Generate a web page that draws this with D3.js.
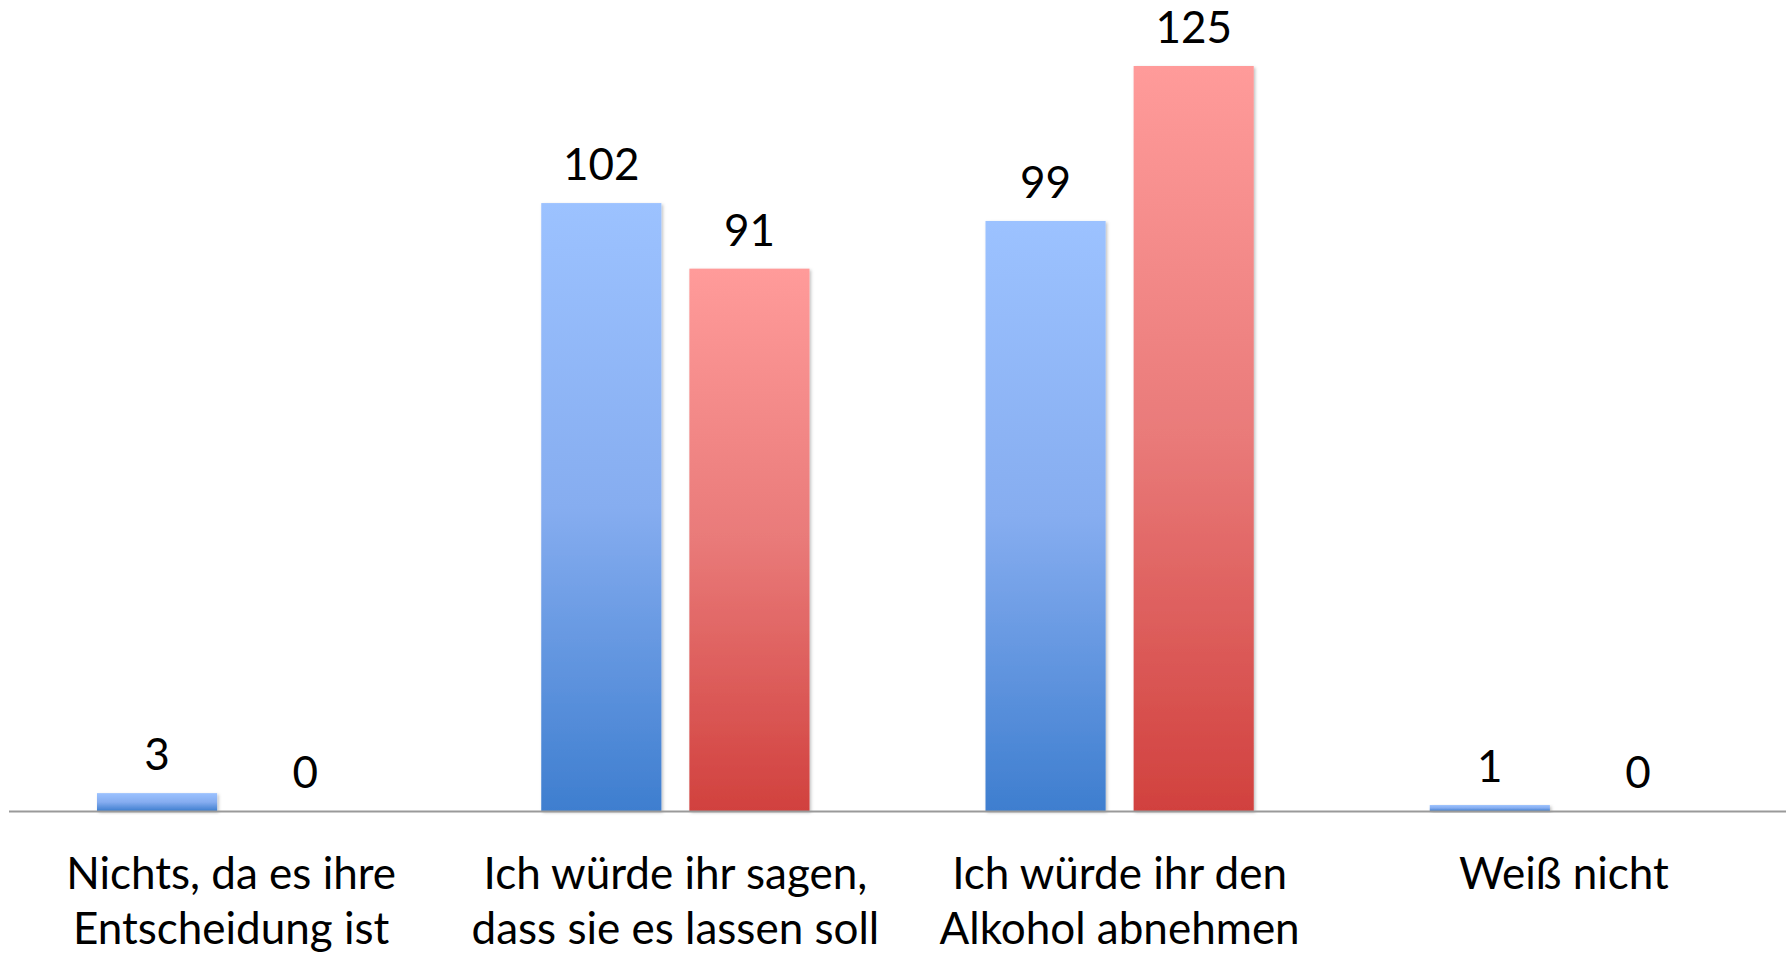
<!DOCTYPE html>
<html>
<head>
<meta charset="utf-8">
<script src="https://cdn.jsdelivr.net/npm/d3@7"></script>
<style>
  body { margin: 0; background: #fff; }
  text { font-family: Lato, "Liberation Sans", Arial, sans-serif; fill: #000; }
</style>
</head>
<body>
<div id="chart"></div>
<script>
// data
const categories = [
  ["Nichts, da es ihre", "Entscheidung ist"],
  ["Ich würde ihr sagen,", "dass sie es lassen soll"],
  ["Ich würde ihr den", "Alkohol abnehmen"],
  ["Weiß nicht"]
];
const seriesNames = ["blue", "red"];
const blueValues = [3, 102, 99, 1];
const redValues = [0, 91, 125, 0];

const width = 1791;
const height = 956;
const axisY = 811;

const svg = d3.select("#chart").append("svg")
  .attr("width", width)
  .attr("height", height);

const defs = svg.append("defs");

const gradBlue = defs.append("linearGradient").attr("id", "gBlue")
  .attr("x1", 0).attr("y1", 0).attr("x2", 0).attr("y2", 1);
gradBlue.append("stop").attr("offset", "0%").attr("stop-color", "#9cc2ff");
gradBlue.append("stop").attr("offset", "50%").attr("stop-color", "#86adf0");
gradBlue.append("stop").attr("offset", "100%").attr("stop-color", "#3e7ecf");

const gradRed = defs.append("linearGradient").attr("id", "gRed")
  .attr("x1", 0).attr("y1", 0).attr("x2", 0).attr("y2", 1);
gradRed.append("stop").attr("offset", "0%").attr("stop-color", "#ff9b9a");
gradRed.append("stop").attr("offset", "50%").attr("stop-color", "#e97a79");
gradRed.append("stop").attr("offset", "100%").attr("stop-color", "#d1413e");

const shadow = defs.append("filter").attr("id", "shadow")
  .attr("x", "-10%").attr("y", "-10%").attr("width", "130%").attr("height", "130%");
shadow.append("feDropShadow")
  .attr("dx", 1.5).attr("dy", 1.5).attr("stdDeviation", 1.5)
  .attr("flood-color", "#000").attr("flood-opacity", 0.25);

// scales
const x0 = d3.scaleBand()
  .domain(d3.range(categories.length))
  .range([9, 1786]);

const x1 = d3.scaleBand()
  .domain(seriesNames)
  .range([88, x0.bandwidth() - 88])
  .paddingInner(0.189);

const y = d3.scaleLinear()
  .domain([0, 125])
  .range([axisY, 66]);

const rows = categories.map((c, i) => ({
  i,
  values: [
    { key: "blue", v: blueValues[i], fill: "url(#gBlue)" },
    { key: "red", v: redValues[i], fill: "url(#gRed)" }
  ]
}));

const groups = svg.selectAll("g.group")
  .data(rows)
  .enter().append("g")
  .attr("class", "group")
  .attr("transform", d => `translate(${x0(d.i)},0)`);

groups.selectAll("rect")
  .data(d => d.values.filter(v => v.v > 0))
  .enter().append("rect")
  .attr("x", d => x1(d.key))
  .attr("y", d => y(d.v))
  .attr("width", x1.bandwidth())
  .attr("height", d => axisY - y(d.v))
  .attr("fill", d => d.fill)
  .attr("filter", "url(#shadow)");

// value labels
groups.selectAll("text.val")
  .data(d => d.values)
  .enter().append("text")
  .attr("class", "val")
  .attr("x", d => x1(d.key) + x1.bandwidth() / 2)
  .attr("y", d => y(d.v) - 23)
  .attr("text-anchor", "middle")
  .style("font-size", "44px")
  .text(d => d.v);

// axis line
svg.append("line")
  .attr("x1", x0.range()[0])
  .attr("x2", x0.range()[1])
  .attr("y1", axisY + 0.5)
  .attr("y2", axisY + 0.5)
  .attr("stroke", "#9a9a9a")
  .attr("stroke-width", 2);

// category labels
const labels = svg.selectAll("text.cat")
  .data(categories)
  .enter().append("text")
  .attr("class", "cat")
  .attr("text-anchor", "middle")
  .attr("transform", (d, i) => `translate(${x0(i) + x0.bandwidth() / 2},889)`)
  .style("font-size", "44px");

labels.selectAll("tspan")
  .data(d => d)
  .enter().append("tspan")
  .attr("x", 0)
  .attr("y", (d, j) => j * 55)
  .text(d => d);
</script>
</body>
</html>
